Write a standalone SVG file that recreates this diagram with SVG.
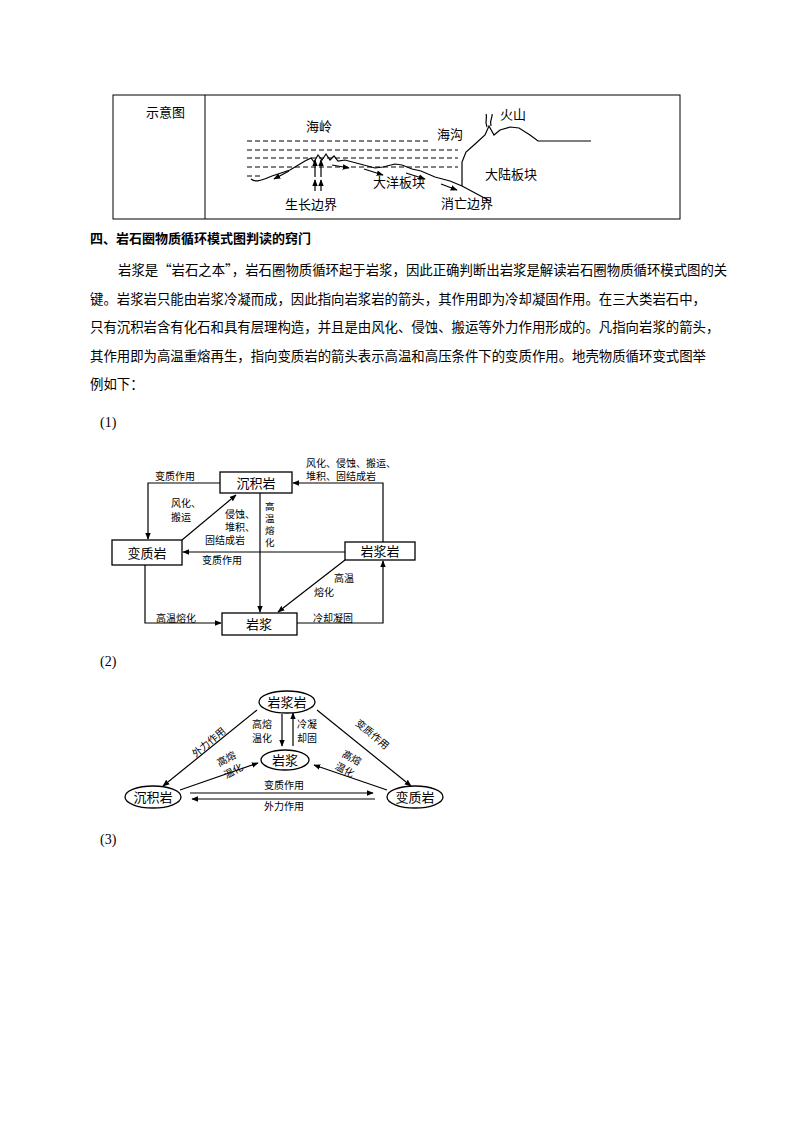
<svg xmlns="http://www.w3.org/2000/svg" width="794" height="1123" viewBox="0 0 794 1123">
<defs>
<marker id="a" viewBox="0 0 10 10" refX="9" refY="5" markerWidth="7" markerHeight="7" orient="auto" markerUnits="userSpaceOnUse"><path d="M0,1 L10,5 L0,9 Z" fill="#000"/></marker>
<style>
text{font-family:"Noto Sans CJK SC","Noto Sans",sans-serif;fill:#000}
.p{font-family:"Liberation Serif","Noto Sans CJK SC",serif;font-size:14px}
.s{font-size:10px}
.v{font-size:9.5px}
.m{font-size:13px}
.t{font-size:13.4px}
.l{stroke:#000;stroke-width:1.2;fill:none}
.la{stroke:#000;stroke-width:1.2;fill:none;marker-end:url(#a)}
.d{stroke:#000;stroke-width:1;stroke-dasharray:5,3;fill:none}
.b{fill:#fff;stroke:#000;stroke-width:1.3}
</style>
</defs>
<rect width="794" height="1123" fill="#fff"/>
<g id="table">
<rect x="113" y="95" width="567" height="124" fill="none" stroke="#000"/>
<line x1="205" y1="95" x2="205" y2="219" stroke="#000"/>
<text x="146" y="117" class="m">示意图</text>
<path class="d" d="M247,141 H428 M247,150 H458 M247,158 H458 M247,167 H458 M247,176 H262"/>
<path class="l" d="M251,179 C256,183 262,180 272,176 L290,170 L305,161 L311,158 L314,162 L318,155 L322,160 L326,154 L330,160 L334,156 L338,161 L345,160 L360,164 L375,168 L383,167 L395,164 L402,165 L412,169 L421,171 L435,177 L450,181 L462,186"/>
<path class="l" d="M462,186 V162 L466,152 L474,145 L485,135 L489,126 L494,135 L500,130 L510,127 L519,128 L530,135 L538,141 L591,141"/>
<path class="l" d="M462,186 L490,201"/>
<path class="la" d="M289,171 L274,179"/><path class="la" d="M332,165 L349,168"/><path class="la" d="M364,169 L383,175"/>
<path class="la" d="M406,173 L425,179"/><path class="la" d="M441,184 L457,190"/>
<path class="la" d="M315,177 V160"/><path class="la" d="M321,177 V160"/><path class="la" d="M315,191 V180"/><path class="la" d="M321,191 V180"/>
<path class="l" d="M487,127 C484,121 488,118 486,114 M491,126 C489,120 493,118 492,114"/>
<text x="306" y="131" class="m">海岭</text>
<text x="437" y="139" class="m">海沟</text>
<text x="500" y="119" class="m">火山</text>
<text x="485" y="179" class="m">大陆板块</text>
<text x="373" y="187" class="m">大洋板块</text>
<text x="285" y="209" class="m">生长边界</text>
<text x="441" y="208" class="m">消亡边界</text>
</g>
<g id="text">
<text x="90" y="243" class="m" font-weight="bold">四、岩石圈物质循环模式图判读的窍门</text>
<text x="118" y="275" class="t">岩浆是“岩石之本”，岩石圈物质循环起于岩浆，因此正确判断出岩浆是解读岩石圈物质循环模式图的关</text>
<text x="90" y="304" class="t">键。岩浆岩只能由岩浆冷凝而成，因此指向岩浆岩的箭头，其作用即为冷却凝固作用。在三大类岩石中，</text>
<text x="90" y="332" class="t">只有沉积岩含有化石和具有层理构造，并且是由风化、侵蚀、搬运等外力作用形成的。凡指向岩浆的箭头，</text>
<text x="90" y="361" class="t">其作用即为高温重熔再生，指向变质岩的箭头表示高温和高压条件下的变质作用。地壳物质循环变式图举</text>
<text x="90" y="389" class="t">例如下：</text>
<text x="100" y="427" class="p">(1)</text>
<text x="100" y="666" class="p">(2)</text>
<text x="100" y="844" class="p">(3)</text>
</g>
<g id="connectors1">
<path class="la" d="M220,483 H148 V539"/>
<path class="la" d="M383,542 V483 H293"/>
<path class="la" d="M182,540 L236,495"/>
<path class="la" d="M345,552 H183"/>
<path class="la" d="M260,493 V612"/>
<path class="la" d="M345,560 L278,612"/>
<path class="la" d="M145,565 V623 H221"/>
<path class="la" d="M297,623 H383 V561"/>
</g>
<g id="n1-chenji"><rect class="b" x="220" y="472" width="72" height="21"/><text x="256" y="488" class="m" text-anchor="middle">沉积岩</text></g>
<g id="n1-bianzhi"><rect class="b" x="112" y="540" width="70" height="25"/><text x="147" y="558" class="m" text-anchor="middle">变质岩</text></g>
<g id="n1-yanjiangyan"><rect class="b" x="345" y="542" width="70" height="18"/><text x="380" y="556" class="m" text-anchor="middle">岩浆岩</text></g>
<g id="n1-yanjiang"><rect class="b" x="222" y="613" width="75" height="22"/><text x="259" y="629" class="m" text-anchor="middle">岩浆</text></g>
<g id="labels1" class="s">
<text x="155" y="480" class="s">变质作用</text>
<text x="306" y="467" class="s">风化、侵蚀、搬运、</text>
<text x="306" y="480" class="s">堆积、固结成岩</text>
<text x="171" y="507" class="s">风化、</text>
<text x="171" y="521" class="s">搬运</text>
<text x="225" y="518" class="s">侵蚀、</text>
<text x="225" y="531" class="s">堆积、</text>
<text x="205" y="544" class="s">固结成岩</text>
<text x="265" y="510" class="v">高</text><text x="265" y="522" class="v">温</text><text x="265" y="534" class="v">熔</text><text x="265" y="546" class="v">化</text>
<text x="202" y="564" class="s">变质作用</text>
<text x="334" y="582" class="s">高温</text>
<text x="314" y="596" class="s">熔化</text>
<text x="156" y="622" class="s">高温熔化</text>
<text x="313" y="622" class="s">冷却凝固</text>
</g>
<g id="connectors2">
<path class="la" d="M257,710 L163,786"/>
<path class="la" d="M317,710 L411,786"/>
<path class="la" d="M282,714 V746"/>
<path class="la" d="M293,746 V713"/>
<path class="la" d="M180,790 L258,763"/>
<path class="la" d="M387,790 L314,765"/>
<path class="la" d="M190,793 H373"/>
<path class="la" d="M375,799 H192"/>
</g>
<g id="n2-yanjiangyan"><ellipse class="b" cx="287" cy="702" rx="28" ry="11"/><text x="287" y="707" class="m" text-anchor="middle">岩浆岩</text></g>
<g id="n2-yanjiang"><ellipse class="b" cx="285" cy="760" rx="24" ry="10"/><text x="285" y="765" class="m" text-anchor="middle">岩浆</text></g>
<g id="n2-chenji"><ellipse class="b" cx="153" cy="797" rx="28" ry="11"/><text x="153" y="802" class="m" text-anchor="middle">沉积岩</text></g>
<g id="n2-bianzhi"><ellipse class="b" cx="415" cy="797" rx="28" ry="11"/><text x="415" y="802" class="m" text-anchor="middle">变质岩</text></g>
<g id="labels2">
<text class="s" transform="translate(211,745) rotate(-40)" text-anchor="middle">外力作用</text>
<text class="s" transform="translate(370,737) rotate(40)" text-anchor="middle">变质作用</text>
<text class="s" transform="translate(228,762) rotate(-28)" text-anchor="middle">高熔</text>
<text class="s" transform="translate(235,774) rotate(-28)" text-anchor="middle">温化</text>
<text class="s" transform="translate(350,761) rotate(28)" text-anchor="middle">高熔</text>
<text class="s" transform="translate(343,773) rotate(28)" text-anchor="middle">温化</text>
<text x="252" y="728" class="s">高熔</text>
<text x="252" y="742" class="s">温化</text>
<text x="297" y="728" class="s">冷凝</text>
<text x="297" y="742" class="s">却固</text>
<text x="284" y="789" class="s" text-anchor="middle">变质作用</text>
<text x="284" y="810" class="s" text-anchor="middle">外力作用</text>
</g>
</svg>
